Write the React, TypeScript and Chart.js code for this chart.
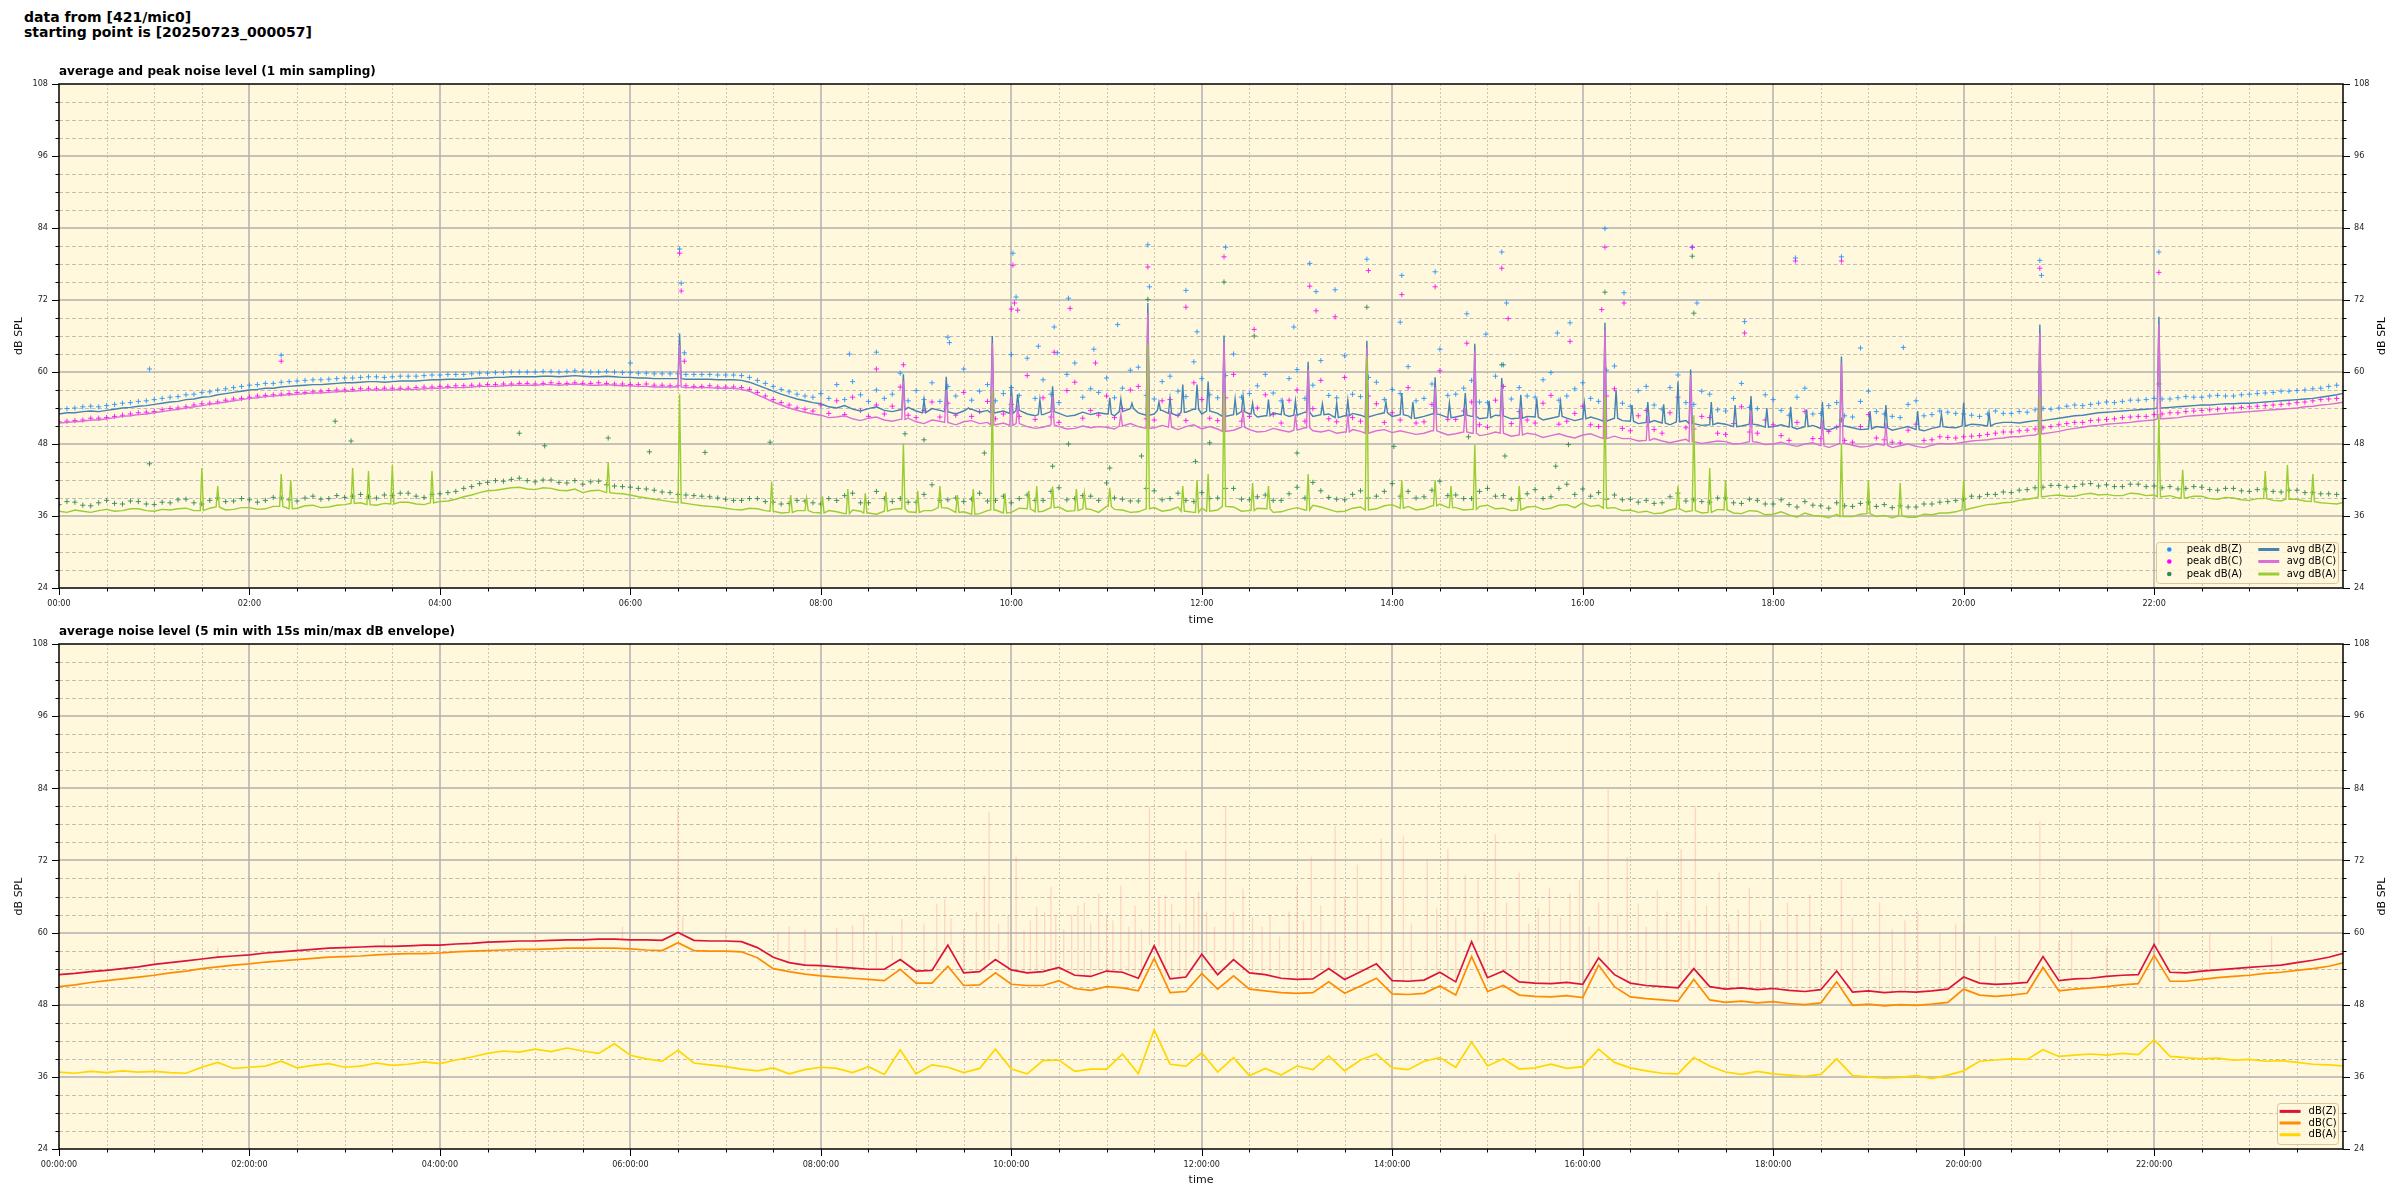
import React, { useEffect, useRef } from 'react';
import { Chart, registerables } from 'chart.js';
Chart.register(...registerables);

// ---------- data ----------
// top chart: 5-minute samples (minutes since 00:00), one row per hour
const AVG_STEP = 5;

const avgZ = [
 53.0,53.2,53.2,53.4,53.5,53.4,53.6,53.8,54.0,54.1,54.3,54.4,
 54.6,54.8,55.0,55.1,55.4,55.5,55.8,55.9,56.2,56.4,56.6,56.8,
 57.0,57.1,57.3,57.3,57.5,57.6,57.7,57.8,57.9,57.9,58.0,58.1,
 58.2,58.2,58.3,58.4,58.4,58.3,58.4,58.5,58.5,58.5,58.6,58.7,
 58.7,58.8,58.8,58.8,58.9,59.0,59.0,59.1,59.1,59.2,59.2,59.2,
 59.2,59.3,59.3,59.2,59.3,59.4,59.3,59.2,59.2,59.3,59.2,59.1,
 59.1,59.0,59.0,58.9,58.9,58.9,58.9,58.8,58.8,58.8,58.8,58.7,
 58.7,58.7,58.6,58.3,57.8,57.3,56.8,56.3,55.9,55.5,55.2,54.9,
 54.7,54.2,54.0,54.4,53.8,53.5,53.9,54.2,53.6,53.4,53.7,54.1,
 53.5,53.2,53.9,53.6,53.4,53.0,53.5,53.8,53.3,53.6,53.2,53.5,
 53.1,53.6,53.0,52.7,52.9,53.4,53.1,52.6,52.8,53.3,52.9,53.2,
 53.0,52.7,53.4,53.9,53.2,52.8,53.0,53.6,53.1,52.7,53.3,53.8,
 53.0,53.5,53.1,52.6,52.9,53.4,53.0,52.5,52.7,53.2,52.9,52.6,
 52.8,53.3,52.6,52.9,53.0,52.4,52.7,53.1,52.8,52.5,52.9,53.2,
 52.6,52.9,52.7,52.3,52.6,53.0,52.9,52.4,52.5,52.8,52.6,52.2,
 52.4,52.8,52.7,52.2,52.3,52.6,52.5,52.0,52.3,52.6,52.3,51.9,
 52.2,52.5,52.1,51.8,52.3,51.9,51.8,51.4,51.6,51.9,51.5,51.2,
 51.7,51.9,51.4,51.1,51.2,51.5,51.3,50.9,51.0,51.3,51.2,50.8,
 50.9,51.2,50.8,50.5,50.9,51.1,50.6,50.3,50.8,51.0,50.7,50.4,
 50.5,50.9,50.7,50.3,50.6,50.9,50.4,50.2,50.6,50.9,50.8,50.7,
 51.0,51.3,51.2,51.0,51.4,51.6,51.6,51.5,51.7,51.9,51.9,52.1,
 52.3,52.5,52.7,52.8,53.0,53.2,53.3,53.4,53.5,53.6,53.7,53.8,
 53.9,54.0,54.1,54.2,54.3,54.4,54.5,54.5,54.6,54.7,54.7,54.8,
 54.8,54.9,55.0,55.1,55.2,55.3,55.4,55.5,55.6,55.8,56.0,56.2,
 56.5];

const avgC = [
 51.5,51.6,51.7,51.8,52.0,52.0,52.2,52.4,52.6,52.7,52.9,53.0,
 53.2,53.4,53.6,53.8,54.0,54.2,54.4,54.6,54.8,55.0,55.2,55.4,
 55.6,55.7,55.9,56.0,56.1,56.2,56.3,56.4,56.5,56.5,56.6,56.7,
 56.8,56.8,56.9,57.0,57.0,57.0,57.0,57.1,57.1,57.1,57.2,57.3,
 57.3,57.4,57.4,57.4,57.5,57.6,57.6,57.6,57.7,57.8,57.8,57.8,
 57.8,57.9,57.9,57.8,57.9,58.0,57.9,57.8,57.8,57.9,57.8,57.7,
 57.7,57.6,57.6,57.5,57.5,57.5,57.5,57.4,57.4,57.4,57.4,57.3,
 57.3,57.3,57.1,56.8,56.2,55.6,55.0,54.5,54.0,53.6,53.3,53.0,
 52.8,52.4,52.5,52.7,52.2,51.9,52.3,52.5,52.0,51.8,52.1,52.3,
 51.7,51.4,52.0,51.8,51.6,51.2,51.7,51.9,51.4,51.6,51.2,51.5,
 51.1,51.4,50.9,50.6,50.8,51.2,50.9,50.5,50.6,51.0,50.7,50.9,
 50.8,50.5,51.0,51.4,50.9,50.6,50.7,51.1,50.8,50.4,50.9,51.2,
 50.5,50.9,50.5,50.1,50.3,50.8,50.4,50.0,50.1,50.6,50.3,50.0,
 50.3,50.7,50.2,50.0,50.3,49.8,50.0,50.4,50.1,49.8,50.2,50.4,
 49.9,50.2,49.9,49.6,49.8,50.2,50.0,49.5,49.7,50.0,49.8,49.4,
 49.6,50.0,49.8,49.3,49.5,49.8,49.6,49.1,49.4,49.7,49.3,49.0,
 49.5,49.7,49.2,48.9,49.3,48.9,48.9,48.5,48.6,48.9,48.5,48.2,
 48.5,48.8,48.4,48.1,48.3,48.5,48.4,48.0,48.1,48.4,48.3,47.9,
 48.0,48.3,47.9,47.6,48.0,48.2,47.7,47.4,47.9,48.1,47.8,47.5,
 47.6,48.0,47.8,47.4,47.7,48.0,47.6,47.4,47.8,48.1,48.0,48.1,
 48.3,48.5,48.6,48.7,48.9,49.0,49.2,49.2,49.4,49.5,49.7,49.9,
 50.1,50.4,50.6,50.8,51.0,51.1,51.3,51.4,51.5,51.6,51.8,51.9,
 52.0,52.2,52.3,52.4,52.6,52.7,52.8,52.9,53.0,53.1,53.2,53.3,
 53.4,53.5,53.6,53.7,53.8,53.9,54.0,54.2,54.3,54.5,54.6,54.8,
 55.0];

const avgA = [
 36.8,36.6,37.0,36.8,36.6,36.9,37.1,36.8,36.9,37.2,37.2,36.9,
 36.8,37.1,37.0,37.2,37.3,36.9,36.9,37.3,37.5,37.0,37.1,37.4,
 37.4,37.1,37.2,37.6,37.6,37.2,37.3,37.7,37.8,37.4,37.5,37.8,
 37.9,38.1,38.2,37.9,37.8,38.1,38.0,38.3,38.3,38.0,37.9,38.2,
 38.4,38.5,38.8,39.2,39.5,39.9,40.2,40.3,40.5,40.7,40.8,40.5,
 40.4,40.7,40.6,40.3,40.2,40.5,39.9,40.2,40.3,39.9,39.8,39.7,
 39.5,39.2,39.0,38.8,38.6,38.4,38.2,38.1,37.9,37.7,37.6,37.5,
 37.3,37.1,37.0,37.3,37.2,36.9,36.8,36.5,36.6,36.9,36.9,36.6,
 36.5,36.9,36.7,36.4,37.0,36.8,36.5,36.3,36.8,37.1,37.2,36.7,
 36.6,36.9,36.9,37.4,37.3,36.6,36.7,36.3,36.4,36.9,37.0,36.5,
 36.6,37.3,37.2,36.7,36.8,37.4,37.5,36.8,36.9,37.2,37.1,36.6,
 37.6,37.1,37.0,36.6,36.7,37.2,37.4,36.8,37.0,37.5,36.8,36.6,
 37.3,36.8,37.0,37.6,37.5,36.8,36.9,37.3,37.2,36.6,36.7,37.1,
 37.4,37.0,37.8,37.5,37.1,36.7,36.8,37.3,37.5,37.0,37.2,37.7,
 37.9,37.3,37.6,37.0,37.2,37.7,38.0,37.4,37.4,37.0,37.1,37.6,
 37.8,37.2,37.3,36.9,37.0,37.5,37.6,37.1,37.3,37.8,37.9,37.4,
 38.2,37.6,37.8,37.3,37.4,36.9,37.0,36.6,36.8,36.4,36.5,37.0,
 37.2,36.7,36.9,36.5,36.6,37.1,37.0,36.5,36.4,36.9,36.8,36.2,
 36.3,36.7,36.2,35.8,36.5,36.1,36.0,35.7,36.3,35.9,35.9,36.3,
 36.4,35.9,36.1,35.7,36.0,35.8,35.8,36.3,36.2,36.5,36.5,36.7,
 37.0,37.3,37.6,37.9,38.0,38.2,38.3,38.6,38.8,39.0,39.2,39.4,
 39.5,39.3,39.3,39.6,39.8,39.5,39.6,39.4,39.4,39.8,39.7,39.4,
 39.5,39.2,39.4,39.0,39.0,39.3,39.3,38.9,38.8,39.1,39.0,38.7,
 38.6,38.9,38.9,38.6,38.5,38.8,38.8,38.5,38.4,38.2,38.1,38.0,
 38.3];

// short spikes of the 1-minute averages: [minute, dB]
const spikesZ = [[391,66.4],[532,59.6],[545,55.4],[559,59.2],[573,54.0],[588,66.0],[600,57.8],[604,56.3],[618,55.4],[626,57.6],[662,55.7],[669,55.5],[676,54.8],[686,71.5],[693,55.0],[700,55.6],[708,57.9],[717,57.9],[724,58.4],[734,66.1],[741,55.5],[746,56.0],[752,54.8],[762,55.4],[771,55.0],[779,55.2],[787,61.7],[796,54.7],[805,54.8],[812,55.3],[824,65.2],[836,55.0],[846,56.5],[853,55.0],[867,59.1],[876,54.8],[886,56.5],[892,64.7],[901,55.2],[909,59.0],[921,56.2],[931,55.6],[946,55.0],[961,54.8],[974,68.2],[981,57.0],[991,54.5],[1001,55.0],[1011,54.6],[1020,58.4],[1028,60.4],[1041,55.0],[1056,54.5],[1066,56.0],[1076,54.0],[1091,54.2],[1101,53.8],[1111,55.0],[1123,62.6],[1141,53.5],[1151,54.5],[1171,53.5],[1186,53.0],[1200,54.9],[1216,53.2],[1248,67.9],[1323,69.2]];
const spikesC = [[391,64.5],[532,58.5],[559,57.0],[588,64.8],[600,56.0],[604,54.5],[626,56.0],[669,53.0],[686,69.8],[700,53.5],[734,65.0],[746,53.8],[779,53.0],[787,60.5],[812,53.0],[824,64.0],[867,57.5],[886,54.0],[892,63.5],[909,57.5],[921,53.8],[974,67.0],[1001,52.8],[1028,59.5],[1066,53.5],[1111,52.0],[1123,61.5],[1151,51.5],[1248,66.5],[1323,68.0]];
const spikesA = [[90,44.0],[100,41.0],[140,43.0],[146,42.0],[185,44.0],[195,43.5],[210,44.5],[235,43.5],[346,45.0],[391,56.3],[449,41.7],[461,39.5],[471,39.0],[481,39.3],[497,40.5],[508,39.8],[521,40.0],[532,48.1],[541,40.2],[555,41.0],[566,39.5],[576,40.5],[588,57.0],[596,39.8],[611,40.2],[616,41.0],[626,40.9],[641,40.5],[646,39.8],[662,40.7],[686,64.6],[708,41.0],[717,42.0],[724,43.0],[734,56.5],[752,41.5],[762,41.0],[787,43.0],[824,62.6],[846,42.0],[867,42.0],[877,41.0],[892,47.9],[920,41.0],[974,55.9],[1020,41.0],[1030,52.8],[1040,44.0],[1050,42.0],[1123,48.0],[1140,42.0],[1160,41.5],[1200,42.0],[1248,56.0],[1323,53.0],[1338,43.7],[1390,43.5],[1404,44.5],[1420,43.0]];

// peak levels (5-minute samples)
const peakZ = [
 53.8,53.9,54.0,54.2,54.3,54.2,54.4,54.6,54.8,54.9,55.1,55.2,
 55.4,55.6,55.8,55.9,56.2,56.3,56.6,56.7,57.0,57.2,57.4,57.6,
 57.8,57.9,58.1,58.1,58.3,58.4,58.5,58.6,58.7,58.7,58.8,58.9,
 59.0,59.0,59.1,59.2,59.2,59.1,59.2,59.3,59.3,59.3,59.4,59.5,
 59.5,59.6,59.6,59.6,59.7,59.8,59.8,59.9,59.9,60.0,60.0,60.0,
 60.0,60.1,60.1,60.0,60.1,60.2,60.1,60.0,60.0,60.1,60.0,59.9,
 59.9,59.8,59.8,59.7,59.7,59.7,59.7,59.6,59.6,59.6,59.6,59.5,
 59.5,59.5,59.4,59.1,58.6,58.1,57.6,57.1,56.7,56.3,56.0,55.8,
 56.4,55.6,57.9,55.4,58.4,56.2,55.1,57.0,55.6,56.3,59.8,55.2,
 56.9,55.4,58.2,55.1,57.6,56.0,60.5,55.3,56.8,57.9,55.2,56.4,
 57.4,56.1,62.3,55.6,58.7,56.3,54.9,59.6,61.5,55.8,57.2,56.6,
 59.0,55.7,57.3,60.3,60.8,56.1,55.5,58.4,59.3,56.8,55.9,61.7,
 58.9,56.2,55.7,59.4,63.0,55.8,56.4,57.7,59.6,56.5,55.2,58.9,
 60.4,55.6,57.8,61.9,56.1,55.7,62.7,56.3,55.9,59.1,58.3,55.4,
 57.1,56.4,60.9,55.2,55.6,58.0,63.8,56.1,56.3,57.3,58.6,55.0,
 54.9,59.3,61.2,55.5,57.4,56.0,55.8,58.7,59.9,55.3,56.0,57.2,
 58.2,55.6,55.1,60.3,61.0,54.8,54.3,56.9,57.6,54.5,53.8,57.4,
 59.5,54.9,54.6,56.8,56.3,53.7,53.5,55.6,58.1,54.1,53.9,56.2,
 55.4,53.6,52.8,55.8,57.3,53.0,53.1,54.4,54.9,52.7,52.5,55.1,
 56.8,53.4,53.0,52.6,52.4,54.6,55.2,52.7,52.9,53.5,53.3,53.1,
 53.0,52.8,52.6,53.0,53.5,53.1,53.1,53.4,53.3,53.7,53.9,53.8,
 54.0,54.3,54.5,54.4,54.6,54.8,55.0,54.9,55.1,55.3,55.3,55.4,
 55.6,55.5,55.5,55.7,55.9,55.8,55.8,56.0,56.1,56.0,56.0,56.2,
 56.3,56.4,56.5,56.6,56.8,56.8,56.9,57.0,57.2,57.3,57.6,57.8,
 57.6];

const peakC = [
 51.7,51.8,51.9,52.0,52.3,52.3,52.4,52.6,52.8,53.0,53.2,53.3,
 53.4,53.7,53.9,54.0,54.2,54.5,54.7,54.8,55.0,55.3,55.5,55.6,
 55.8,56.0,56.1,56.2,56.3,56.4,56.6,56.6,56.7,56.8,56.9,57.0,
 57.0,57.1,57.2,57.2,57.2,57.3,57.3,57.3,57.3,57.4,57.5,57.5,
 57.6,57.6,57.7,57.7,57.8,57.8,57.9,57.9,58.0,58.0,58.1,58.1,
 58.0,58.1,58.2,58.1,58.1,58.2,58.1,58.1,58.2,58.1,58.0,58.0,
 57.9,57.9,58.0,57.8,57.8,57.7,57.7,57.7,57.6,57.6,57.7,57.5,
 57.5,57.5,57.4,57.1,56.6,56.0,55.4,54.9,54.5,54.0,53.8,53.5,
 54.5,53.1,55.2,52.9,55.8,53.6,52.6,54.5,53.0,54.3,57.5,52.8,
 52.4,53.6,55.0,52.5,54.8,52.8,56.6,52.6,53.4,55.1,52.2,53.0,
 54.6,52.6,59.4,52.1,55.7,52.5,51.6,56.9,58.3,52.3,53.6,52.8,
 56.0,52.4,53.9,57.0,57.6,52.2,52.0,55.2,55.4,52.8,51.9,58.2,
 55.4,52.3,51.9,55.7,59.6,51.8,52.6,54.0,56.2,52.9,51.5,55.3,
 57.0,51.8,53.9,58.6,52.2,51.7,59.1,52.4,51.8,56.0,54.7,51.6,
 53.2,52.0,57.4,51.5,51.7,54.6,60.2,52.1,52.1,53.5,55.0,51.2,
 50.8,55.3,57.6,51.4,53.4,52.0,51.5,54.8,56.1,51.3,51.8,53.1,
 54.3,51.2,50.9,56.0,57.2,50.6,50.2,52.7,53.6,50.4,49.8,53.2,
 55.8,50.7,50.5,52.6,52.4,49.8,49.6,51.4,54.2,50.0,49.8,52.0,
 51.2,49.4,48.6,51.6,53.4,48.9,48.9,50.1,50.8,48.6,48.3,50.9,
 52.9,49.0,48.7,48.3,48.2,50.3,51.3,48.6,48.7,49.2,49.1,49.0,
 49.2,49.3,49.4,49.6,49.8,50.0,50.0,50.2,50.3,50.5,50.7,50.9,
 51.2,51.4,51.6,51.6,51.9,52.0,52.1,52.2,52.4,52.5,52.6,52.6,
 52.9,53.0,53.2,53.2,53.4,53.5,53.6,53.7,53.8,53.8,54.0,54.1,
 54.2,54.3,54.4,54.5,54.6,54.7,54.9,55.0,55.2,55.4,55.5,55.6,
 55.6];

const peakA = [
 37.9,38.4,38.3,37.8,37.7,38.2,38.6,38.1,38.0,38.5,38.4,38.0,
 37.9,38.3,38.2,38.7,38.8,38.2,38.0,38.6,39.0,38.4,38.5,38.9,
 38.7,38.3,38.6,39.1,39.0,38.7,38.5,39.0,39.3,38.8,38.9,39.4,
 39.1,39.3,39.6,39.2,39.0,39.5,39.4,39.8,39.8,39.3,39.1,39.6,
 39.7,39.9,40.1,40.6,40.9,41.4,41.6,41.9,41.8,42.1,42.3,41.9,
 41.7,42.0,42.0,41.6,41.5,41.9,41.3,41.7,41.8,41.2,41.0,40.9,
 40.8,40.6,40.5,40.3,40.0,39.9,39.6,39.5,39.4,39.3,39.2,39.0,
 38.8,38.6,38.6,38.9,38.9,38.4,38.3,38.0,38.1,38.6,38.5,38.2,
 38.0,38.9,38.6,39.4,39.8,38.2,38.2,40.1,38.9,38.4,38.9,38.3,
 38.3,39.6,41.2,38.6,38.7,39.0,38.4,38.8,39.8,38.5,38.6,39.3,
 38.2,38.9,39.5,38.6,38.6,40.1,40.7,38.7,38.9,39.4,39.3,38.6,
 41.5,39.0,38.8,38.5,38.5,40.6,40.2,38.7,38.9,39.8,38.6,38.4,
 39.9,38.9,39.0,40.6,40.6,38.8,38.7,39.2,39.5,38.6,38.6,39.7,
 40.8,39.0,41.6,40.2,39.1,38.8,38.7,39.6,40.2,39.0,39.3,40.1,
 41.4,39.3,40.1,39.0,39.2,40.3,41.8,39.4,39.5,38.9,38.9,40.1,
 40.6,39.3,39.4,38.8,38.9,39.7,40.4,38.9,39.2,40.6,41.3,39.6,
 40.5,39.3,39.9,38.8,39.5,38.7,38.8,38.3,38.6,38.1,38.2,39.2,
 39.8,38.5,38.7,38.4,38.3,39.0,39.0,38.2,38.1,38.8,38.6,38.0,
 38.0,38.7,37.9,37.5,38.4,37.8,37.7,37.3,38.2,37.7,37.6,38.1,
 38.3,37.6,37.9,37.4,37.7,37.5,37.5,38.0,38.0,38.3,38.4,38.6,
 38.8,39.3,39.2,39.6,39.6,40.0,39.9,40.3,40.4,40.7,40.8,41.1,
 41.1,40.8,40.9,41.3,41.4,41.0,41.2,40.9,40.9,41.3,41.3,40.9,
 41.0,40.7,40.9,40.5,40.6,40.9,40.8,40.4,40.3,40.6,40.6,40.2,
 40.1,40.4,40.5,40.1,40.0,40.3,40.3,39.9,39.9,39.7,39.7,39.6,
 39.8];

// isolated high peak readings: [minute, dB]
const peakZExtra = [[57,60.5],[140,62.8],[360,61.5],[391,80.5],[392,74.8],[394,63.2],[498,63.0],[515,63.3],[560,65.8],[561,64.9],[600,62.9],[601,79.8],[603,72.5],[617,64.3],[627,67.5],[629,63.2],[636,72.3],[652,63.8],[667,67.9],[686,81.2],[687,74.2],[710,73.6],[717,66.7],[735,80.8],[778,67.5],[788,78.1],[792,73.4],[804,73.7],[824,78.8],[845,68.3],[846,76.1],[867,76.7],[887,69.7],[899,66.3],[909,80.0],[912,71.5],[944,66.5],[952,68.2],[974,83.9],[986,73.2],[1029,80.8],[1032,71.5],[1062,68.4],[1094,79.0],[1123,79.2],[1135,64.0],[1162,64.1],[1248,78.6],[1249,76.1],[1323,80.0]];
const peakCExtra = [[140,61.8],[391,79.8],[392,73.5],[394,61.8],[515,60.5],[532,61.2],[600,70.5],[601,77.8],[602,71.5],[604,70.3],[627,63.3],[637,70.6],[653,61.5],[686,77.5],[710,70.8],[734,79.2],[753,67.1],[788,74.3],[792,70.2],[804,69.2],[825,76.9],[846,72.9],[867,74.2],[887,64.8],[909,77.3],[913,68.9],[952,65.1],[972,70.4],[974,80.8],[986,71.5],[1029,80.8],[1062,66.5],[1094,78.5],[1123,78.5],[1248,77.3],[1323,76.6]];
const peakAExtra = [[57,44.7],[174,51.8],[184,48.5],[290,49.8],[306,47.7],[346,49.0],[372,46.7],[407,46.6],[448,48.3],[533,49.7],[545,48.7],[583,46.5],[626,44.3],[636,48.0],[662,44.0],[682,46.0],[686,72.1],[716,45.1],[725,48.2],[734,75.0],[753,66.0],[780,46.5],[824,70.8],[841,47.6],[888,49.2],[909,61.2],[911,46.0],[943,44.3],[951,47.9],[974,73.3],[1029,79.3],[1030,69.8],[1123,52.0],[1248,60.0],[1323,58.0]];

// bottom chart: 5-minute averages, sampled every 10 minutes
const LEVEL_STEP = 10;

const levelZ = [53.0,53.2,53.5,53.7,54.0,54.3,54.7,
 55.0,55.3,55.6,55.9,56.1,56.3,
 56.6,56.8,57.0,57.2,57.4,57.5,57.6,57.7,57.7,57.8,57.9,57.9,
 58.1,58.2,58.4,58.5,58.6,58.6,58.7,58.8,58.8,58.9,58.9,58.8,
 58.8,58.7,60.0,58.7,58.6,58.6,
 58.5,57.5,55.9,55.0,54.6,54.5,
 54.3,54.1,53.9,53.9,55.5,53.6,53.7,57.9,53.3,53.5,55.5,53.8,
 53.3,53.5,54.2,52.9,52.7,53.6,53.4,52.4,57.8,52.3,52.6,56.4,
 53.0,55.5,53.3,53.0,52.4,52.2,52.3,54.0,52.2,53.5,54.8,52.0,
 51.9,52.1,53.4,51.8,58.5,52.5,53.6,51.8,51.6,51.5,51.7,51.4,
 55.8,53.0,51.6,51.2,51.0,50.8,54.0,51.0,50.6,50.8,50.5,50.7,
 50.4,50.2,50.5,53.6,50.1,50.3,50.0,50.2,50.1,50.3,50.6,52.6,
 51.6,51.4,51.5,51.7,56.0,52.0,52.3,52.4,52.7,52.9,53.0,58.0,
 53.4,53.3,53.6,53.8,54.0,54.2,54.4,54.6,55.0,55.4,55.9,56.6];

const levelC = [51.0,51.3,51.7,52.0,52.3,52.6,52.9,
 53.3,53.6,54.0,54.3,54.6,54.8,
 55.1,55.3,55.5,55.7,55.9,56.0,56.1,56.3,56.4,56.5,56.5,56.6,
 56.8,56.9,57.0,57.1,57.2,57.2,57.3,57.4,57.4,57.4,57.4,57.3,
 57.1,57.0,58.3,57.0,56.9,56.9,
 56.8,55.8,54.0,53.5,53.1,52.8,
 52.6,52.4,52.2,52.0,53.9,51.6,51.6,54.4,51.2,51.3,53.3,51.4,
 51.2,51.2,52.0,50.7,50.4,51.0,50.8,50.3,55.7,50.0,50.2,53.2,
 50.6,52.8,50.6,50.3,50.0,49.9,50.0,51.8,49.9,51.1,52.4,49.8,
 49.7,49.9,51.1,49.6,56.0,50.2,51.2,49.6,49.4,49.3,49.5,49.2,
 54.6,51.0,49.3,49.0,48.8,48.6,52.2,48.8,48.4,48.6,48.3,48.5,
 48.2,48.0,48.3,51.8,47.9,48.1,47.8,48.0,47.9,48.1,48.4,50.6,
 49.6,49.4,49.6,49.9,54.2,50.3,50.6,50.8,51.0,51.3,51.5,56.2,
 51.9,51.9,52.2,52.5,52.7,52.9,53.2,53.4,53.7,54.0,54.4,55.0];

const levelA = [36.8,36.6,36.9,36.7,37.0,36.8,36.9,
 36.7,36.6,37.6,38.4,37.4,37.6,
 37.8,38.6,37.5,37.9,38.2,37.6,37.8,38.3,37.9,38.1,38.5,38.2,
 38.8,39.3,39.9,40.3,40.1,40.6,40.2,40.8,40.3,39.9,41.5,39.6,
 39.0,38.6,40.4,38.3,38.0,37.7,
 37.3,37.0,37.5,36.5,37.2,37.6,
 37.4,36.7,37.7,36.4,40.5,36.5,38.0,37.6,36.7,37.4,40.6,37.3,
 36.5,38.7,38.8,36.9,37.3,37.3,39.8,36.5,43.8,38.1,37.8,40.0,
 36.8,39.2,36.2,37.4,36.3,37.8,37.2,39.5,37.0,38.8,39.8,37.5,
 37.2,38.6,39.2,37.6,41.8,37.8,39.0,37.3,37.5,38.1,37.4,37.7,
 40.6,38.4,37.5,37.0,36.6,36.5,39.2,37.8,36.8,36.4,36.9,36.5,
 36.3,36.1,36.4,39.0,36.2,36.0,35.8,35.9,36.2,35.7,36.3,37.0,
 38.6,38.8,39.0,38.9,40.5,39.4,39.6,39.8,39.6,39.9,39.7,42.2,
 39.4,39.2,39.0,39.1,38.8,38.9,38.6,38.7,38.4,38.1,38.0,37.8];

// 15 s max envelope peaks: [minute, dB]
const envelopePeaks = [[60,57],[100,57.5],[150,58.5],[205,59],[300,60],[355,61],[390,80.6],[393,62.8],[420,60.5],[453,60],[460,61],[470,60.5],[480,59.8],[490,60.8],[500,61.2],[507,63.1],[515,60.2],[525,59.5],[531,62.3],[545,61.5],[553,64.8],[558,65.6],[562,62.4],[570,60.5],[578,63.5],[583,69.5],[586,80],[592,61.5],[598,63],[603,72.6],[608,60.3],[612,62],[616,64.2],[621,63.5],[625,67.6],[628,63],[633,60.5],[638,63],[642,64.5],[646,65],[650,61.5],[655,66.5],[660,63],[664,62],[669,67.8],[674,61],[678,64.5],[682,60.5],[687,80.9],[693,65.9],[697,66.2],[701,64.8],[706,61.5],[710,73.7],[715,65.8],[718,66.7],[723,63.5],[728,61],[735,80.9],[740,63.5],[746,67.3],[752,62.5],[758,61],[763,62.8],[769,59.3],[775,63.5],[780,67.8],[784,62],[789,72.6],[795,64.5],[800,60],[804,77.7],[810,66],[818,71.3],[825,63],[833,75.7],[840,65.5],[847,76],[852,61.5],[862,72.1],[868,64],[875,73.9],[880,62.5],[886,69.6],[894,68.8],[898,63.5],[905,76.4],[912,65],[920,70],[926,61.5],[932,64],[939,67.5],[946,62.5],[952,66.5],[958,68.8],[964,61],[970,65],[976,83.8],[982,63],[988,72.6],[995,64.8],[1000,61],[1007,67],[1013,63.5],[1022,73.9],[1027,62],[1031,81],[1038,64.5],[1046,70],[1052,61.5],[1058,63.8],[1065,67.5],[1072,62],[1080,60.5],[1089,65],[1095,63],[1103,66.3],[1110,61],[1123,68.8],[1130,62.5],[1147,65],[1155,60.5],[1163,62],[1171,63.7],[1185,60],[1195,61.5],[1200,61.2],[1210,59.5],[1220,59.4],[1235,60.5],[1248,78.5],[1260,58.5],[1268,60.4],[1290,57.5],[1323,66.3],[1355,59.9],[1394,59.4]];

// axis ranges / ticks
const Y_MIN = 24, Y_MAX = 108, Y_MAJOR = 12, Y_MINOR = 3;
const X_MIN = 0, X_MAX = 1439, X_MAJOR = 120, X_MINOR = 30;
const Y_TICKS = [24, 36, 48, 60, 72, 84, 96, 108];
const X_TICKS = [0, 120, 240, 360, 480, 600, 720, 840, 960, 1080, 1200, 1320];

// ---------- styling ----------
const FONT = "'DejaVu Sans', sans-serif";
const TICK_FONT = "'DejaVu Sans Condensed', 'DejaVu Sans', sans-serif";
const BG = '#fff8dc';
const C_PEAKZ = 'rgba(30,144,255,0.85)', C_PEAKC = 'rgba(255,0,255,0.85)', C_PEAKA = 'rgba(46,139,87,0.9)';
const C_AVGZ = '#4682b4', C_AVGC = '#da70d6', C_AVGA = '#9acd32';
const C_LZ = '#dc143c', C_LC = '#ff8c00', C_LA = '#ffd700';
const C_ENV = 'rgba(250,128,114,0.28)';

// ---------- builders ----------
type P = { x: number; y: number | null };
const sampled = (vals: number[], step: number): P[] => vals.map((v, i) => ({ x: i * step, y: v }));
function lineSeries(vals: number[], spikes: number[][]): P[] {
  const pts: P[] = sampled(vals, AVG_STEP).filter((p) => !spikes.some(([t]) => Math.abs(p.x - t) < 1.5));
  for (const [t, v] of spikes) {
    const foot = vals[Math.min(vals.length - 1, Math.round(t / AVG_STEP))];
    pts.push({ x: t - 1, y: foot }, { x: t, y: v }, { x: t + 1, y: foot });
  }
  return pts.sort((a, b) => a.x - b.x);
}
function dots(vals: number[], extra: number[][]): P[] {
  return sampled(vals, AVG_STEP).concat(extra.map(([t, v]) => ({ x: t, y: v })));
}
function envelope(peaks: number[][], base: number[]): P[] {
  const out: P[] = [];
  for (const [t, hi] of peaks) {
    const lo = base[Math.min(base.length - 1, Math.round(t / LEVEL_STEP))];
    out.push({ x: t, y: lo }, { x: t, y: hi }, { x: t, y: null });
  }
  return out;
}
const two = (n: number) => String(n).padStart(2, '0');
const fmtTime = (raw: number, sec: boolean) => {
  const v = Math.round(raw);
  const h = Math.floor(v / 60), m = v - h * 60;
  return `${two(h)}:${two(m)}` + (sec ? ':00' : '');
};

// ---------- matplotlib-like frame plugin ----------
const framePlugin = {
  id: 'mplFrame',
  beforeDatasetsDraw(chart: any) {
    const { ctx, chartArea: a, scales } = chart;
    const x = scales.x, y = scales.y;
    ctx.save();
    ctx.fillStyle = BG;
    ctx.fillRect(a.left, a.top, a.right - a.left, a.bottom - a.top);
    const hline = (p: number) => { ctx.beginPath(); ctx.moveTo(a.left, p); ctx.lineTo(a.right, p); ctx.stroke(); };
    const vline = (p: number) => { ctx.beginPath(); ctx.moveTo(p, a.top); ctx.lineTo(p, a.bottom); ctx.stroke(); };
    ctx.lineWidth = 0.8;
    ctx.strokeStyle = 'rgba(150,150,150,0.75)';
    ctx.setLineDash([4, 2.5]);
    for (let v = Y_MIN; v <= Y_MAX; v += Y_MINOR) if ((v - Y_MIN) % Y_MAJOR !== 0) hline(Math.round(y.getPixelForValue(v)) + 0.5);
    ctx.strokeStyle = 'rgba(170,165,150,0.75)';
    ctx.setLineDash([2, 2]);
    for (let v = X_MIN; v <= X_MAX; v += X_MINOR) if (v % X_MAJOR !== 0) vline(Math.round(x.getPixelForValue(v)) + 0.5);
    ctx.setLineDash([]);
    ctx.strokeStyle = '#b0b0b0';
    ctx.lineWidth = 1.5;
    for (let v = Y_MIN + Y_MAJOR; v < Y_MAX; v += Y_MAJOR) hline(Math.round(y.getPixelForValue(v)));
    for (let v = X_MAJOR; v <= X_MAX; v += X_MAJOR) vline(Math.round(x.getPixelForValue(v)));
    ctx.restore();
  },
  afterDatasetsDraw(chart: any, _a: any, o: any) {
    const { ctx, chartArea: a, scales } = chart;
    const x = scales.x, y = scales.y;
    ctx.save();
    ctx.strokeStyle = '#000';
    ctx.lineWidth = 1;
    for (let v = Y_MIN; v <= Y_MAX; v += Y_MINOR) {
      const p = Math.round(y.getPixelForValue(v)) + 0.5;
      const len = (v - Y_MIN) % Y_MAJOR === 0 ? 7 : 3.5;
      ctx.beginPath(); ctx.moveTo(a.left - len, p); ctx.lineTo(a.left, p);
      ctx.moveTo(a.right, p); ctx.lineTo(a.right + len, p); ctx.stroke();
    }
    for (let v = X_MIN; v <= X_MAX; v += X_MINOR) {
      const p = Math.round(x.getPixelForValue(v)) + 0.5;
      const len = v % X_MAJOR === 0 ? 7 : 3.5;
      ctx.beginPath(); ctx.moveTo(p, a.bottom); ctx.lineTo(p, a.bottom + len); ctx.stroke();
    }
    ctx.lineWidth = 1.5;
    ctx.strokeRect(a.left, a.top, a.right - a.left, a.bottom - a.top);
    ctx.fillStyle = '#000';
    ctx.font = `bold 12px ${FONT}`;
    ctx.textBaseline = 'middle';
    ctx.textAlign = 'left';
    ctx.fillText(o.title, a.left, a.top - 12);
    ctx.save();
    ctx.font = `11px ${FONT}`;
    ctx.translate(a.right + 39, (a.top + a.bottom) / 2);
    ctx.rotate(-Math.PI / 2);
    ctx.textAlign = 'center';
    ctx.fillText('dB SPL', 0, 0);
    ctx.restore();
    const L = o.legend;
    const bx = a.right - 5 - L.width, by = a.bottom - 5 - L.height;
    ctx.beginPath();
    (ctx as any).roundRect(bx + 0.5, by + 0.5, L.width, L.height, 3);
    ctx.fillStyle = 'rgba(255,248,220,0.85)';
    ctx.fill();
    ctx.strokeStyle = '#dcc69c';
    ctx.lineWidth = 1;
    ctx.stroke();
    ctx.font = `10px ${FONT}`;
    ctx.textAlign = 'left';
    for (const col of L.cols) {
      col.items.forEach((it: any, i: number) => {
        const ry = by + L.rows[i];
        if (it.kind === 'dot') {
          ctx.fillStyle = it.color;
          ctx.beginPath(); ctx.arc(bx + col.markX, ry, 2.3, 0, Math.PI * 2); ctx.fill();
        } else {
          ctx.strokeStyle = it.color; ctx.lineWidth = 3;
          ctx.beginPath(); ctx.moveTo(bx + col.markX, ry); ctx.lineTo(bx + col.markX + 21, ry); ctx.stroke();
        }
        ctx.fillStyle = '#000';
        ctx.fillText(it.label, bx + col.textX, ry);
      });
    }
    ctx.restore();
  },
};

function scalesCfg(xHeight: number, withSec: boolean) {
  const tickFont = { family: TICK_FONT, size: 9 };
  const hiddenGrid = { display: true, drawOnChartArea: false, drawTicks: true, tickLength: 7, color: 'rgba(0,0,0,0)' };
  const yTicks = { font: tickFont, color: '#222', padding: 4, autoSkip: false };
  const setY = (s: any) => { s.ticks = Y_TICKS.map((value) => ({ value })); };
  return {
    x: {
      type: 'linear', min: X_MIN, max: X_MAX,
      afterBuildTicks: (s: any) => { s.ticks = X_TICKS.map((value) => ({ value })); },
      afterFit: (s: any) => { s.height = xHeight; },
      border: { display: false }, grid: hiddenGrid,
      ticks: { autoSkip: false, maxRotation: 0, font: tickFont, color: '#222', padding: 3,
        callback: (v: any) => fmtTime(Number(v), withSec) },
      title: { display: true, text: 'time', font: { family: FONT, size: 11 }, color: '#111', padding: { top: 0, bottom: 13 } },
    },
    y: {
      type: 'linear', position: 'left', min: Y_MIN, max: Y_MAX,
      afterBuildTicks: setY,
      afterFit: (s: any) => { s.width = 59; },
      border: { display: false }, grid: hiddenGrid, ticks: yTicks,
      title: { display: true, text: 'dB SPL', font: { family: FONT, size: 11 }, color: '#111', padding: { top: 13, bottom: 0 } },
    },
    yR: {
      type: 'linear', position: 'right', min: Y_MIN, max: Y_MAX,
      afterBuildTicks: setY,
      afterFit: (s: any) => { s.width = 57; },
      border: { display: false }, grid: hiddenGrid, ticks: yTicks,
    },
  };
}

const baseOptions = {
  responsive: false,
  animation: false,
  events: [],
  devicePixelRatio: 1,
  layout: { padding: { top: 44, left: 0, right: 0, bottom: 0 } },
};

function topConfig(): any {
  const line = (label: string, data: P[], color: string, order: number) => ({
    label, data, borderColor: color, borderWidth: 1.4, pointRadius: 0, tension: 0, order,
  });
  const scatter = (label: string, data: P[], color: string, order: number) => ({
    label, data, showLine: false, pointStyle: 'cross', pointRadius: 2.6, borderWidth: 1,
    borderColor: color, backgroundColor: color, order,
  });
  return {
    type: 'line',
    data: {
      datasets: [
        line('avg dB(A)', lineSeries(avgA, spikesA), C_AVGA, 0),
        line('avg dB(C)', lineSeries(avgC, spikesC), C_AVGC, 1),
        line('avg dB(Z)', lineSeries(avgZ, spikesZ), C_AVGZ, 2),
        scatter('peak dB(A)', dots(peakA, peakAExtra), C_PEAKA, 3),
        scatter('peak dB(C)', dots(peakC, peakCExtra), C_PEAKC, 4),
        scatter('peak dB(Z)', dots(peakZ, peakZExtra), C_PEAKZ, 5),
      ],
    },
    options: {
      ...baseOptions,
      scales: scalesCfg(52, false),
      plugins: {
        legend: { display: false }, tooltip: { enabled: false },
        mplFrame: {
          title: 'average and peak noise level (1 min sampling)',
          legend: {
            width: 182, height: 41, rows: [7.5, 19.5, 32],
            cols: [
              { markX: 13.3, textX: 30.7, items: [
                { label: 'peak dB(Z)', color: 'rgb(30,144,255)', kind: 'dot' },
                { label: 'peak dB(C)', color: 'rgb(255,0,255)', kind: 'dot' },
                { label: 'peak dB(A)', color: 'rgb(46,139,87)', kind: 'dot' } ] },
              { markX: 102.3, textX: 130.7, items: [
                { label: 'avg dB(Z)', color: C_AVGZ, kind: 'line' },
                { label: 'avg dB(C)', color: C_AVGC, kind: 'line' },
                { label: 'avg dB(A)', color: C_AVGA, kind: 'line' } ] },
            ],
          },
        },
      },
    },
    plugins: [framePlugin],
  };
}

function bottomConfig(): any {
  const line = (label: string, data: P[], color: string, order: number) => ({
    label, data, borderColor: color, borderWidth: 1.7, pointRadius: 0, tension: 0, order,
  });
  return {
    type: 'line',
    data: {
      datasets: [
        line('dB(Z)', sampled(levelZ, LEVEL_STEP), C_LZ, 0),
        line('dB(C)', sampled(levelC, LEVEL_STEP), C_LC, 1),
        line('dB(A)', sampled(levelA, LEVEL_STEP), C_LA, 2),
        { label: 'envelope', data: envelope(envelopePeaks, levelZ), borderColor: C_ENV, borderWidth: 1.3,
          pointRadius: 0, spanGaps: false, order: 3 },
      ],
    },
    options: {
      ...baseOptions,
      scales: scalesCfg(51, true),
      plugins: {
        legend: { display: false }, tooltip: { enabled: false },
        mplFrame: {
          title: 'average noise level (5 min with 15s min/max dB envelope)',
          legend: {
            width: 61, height: 41, rows: [8.4, 20, 31.7],
            cols: [
              { markX: 2.6, textX: 31.6, items: [
                { label: 'dB(Z)', color: C_LZ, kind: 'line' },
                { label: 'dB(C)', color: C_LC, kind: 'line' },
                { label: 'dB(A)', color: C_LA, kind: 'line' } ] },
            ],
          },
        },
      },
    },
    plugins: [framePlugin],
  };
}

export default function App() {
  const r1 = useRef<HTMLCanvasElement>(null);
  const r2 = useRef<HTMLCanvasElement>(null);
  useEffect(() => {
    Chart.defaults.font.family = FONT;
    const c1 = new Chart(r1.current as HTMLCanvasElement, topConfig());
    const c2 = new Chart(r2.current as HTMLCanvasElement, bottomConfig());
    return () => { c1.destroy(); c2.destroy(); };
  }, []);
  return (
    <div style={{ position: 'fixed', left: 0, top: 0, width: 2400, height: 1200, background: '#fff', overflow: 'hidden' }}>
      <div style={{ position: 'absolute', left: 24, top: 10, font: `bold 14px ${FONT}`, lineHeight: '15px', color: '#000' }}>
        data from [421/mic0]<br />starting point is [20250723_000057]
      </div>
      <canvas ref={r1} width={2400} height={600} style={{ position: 'absolute', left: 0, top: 40, width: 2400, height: 600 }} />
      <canvas ref={r2} width={2400} height={600} style={{ position: 'absolute', left: 0, top: 600, width: 2400, height: 600 }} />
    </div>
  );
}
